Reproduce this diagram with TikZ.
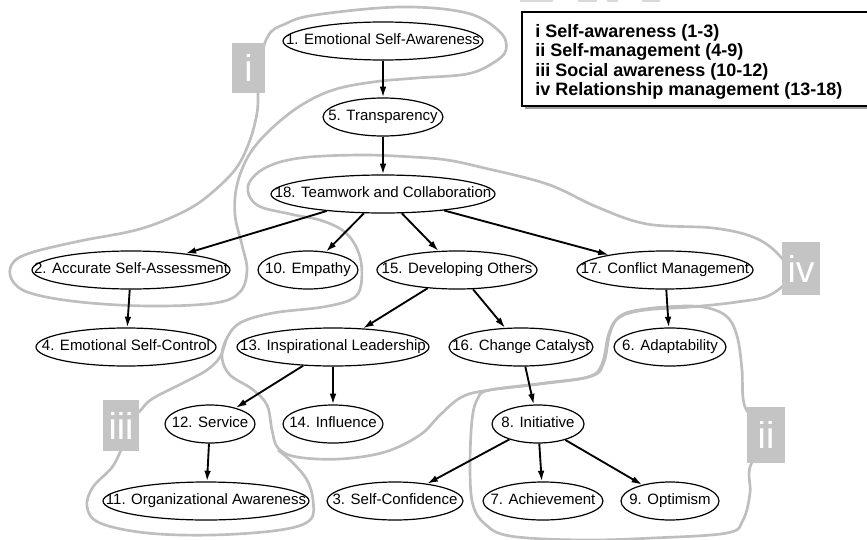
\documentclass[tikz,border=0pt]{standalone}
\usepackage{fontspec}
\setmainfont{Liberation Sans}
\usetikzlibrary{shapes.geometric,arrows.meta}
\definecolor{loopgray}{HTML}{BEBEBE}
\definecolor{boxgray}{HTML}{C4C4C4}
\newcommand\nlab[1]{\makebox[0pt]{\strut #1}}
\begin{document}
\begin{tikzpicture}[x=0.75pt,y=-0.75pt,
  en/.style={ellipse, draw, fill=white, line width=0.9pt, inner sep=0pt, minimum height=28.5pt, font=\fontsize{11.25pt}{13pt}\selectfont},
  ew/.style={minimum width=#1*1.5pt},
  edge/.style={line width=1.4pt, -{Latex[length=8pt,width=5pt]}},
  grp/.style={draw=loopgray, line width=2pt},
  lab/.style={fill=boxgray, text=white, inner sep=0pt, font=\fontsize{28pt}{28pt}\selectfont},
  leg/.style={anchor=base west, inner sep=0pt, font=\fontsize{13.5pt}{16pt}\selectfont\bfseries}
]
\useasboundingbox (0,0) rectangle (867,539);

% faint fragments at the top edge
\fill[gray!30] (520,0) rectangle (553,1.5);
\fill[gray!30] (578,0) rectangle (597,1.5);
\fill[gray!30] (607,0) rectangle (618,1.5);
\fill[gray!30] (642,0) rectangle (660,1.5);

% group outlines
% i
\draw[grp] plot[smooth cycle, tension=0.6] coordinates {
 (258,70) (268,36) (285,24) (315,15) (400,7) (467,13) (500,32) (506,50) (493,63)
 (467,74) (417,78) (373,82) (333,90) (300,106) (270,130) (249,155) (237,185)
 (235,215) (242,245) (247,270) (240,292) (215,303) (150,306) (80,302) (30,293)
 (12,280) (12,264) (30,253) (80,241) (140,229) (187,210) (215,190) (237,167)
 (250,140) (257,113) (258,93)};
% iv
\draw[grp] plot[smooth cycle, tension=0.6] coordinates {
 (790,275) (777,253) (753,237) (713,228) (647,224) (597,207) (547,184) (480,167)
 (447,160) (413,157) (360,155) (300,158) (265,168) (248,186) (257,205) (290,214)
 (323,221) (347,234) (360,257) (361,285) (352,299) (323,307) (273,313) (240,323)
 (226,340) (222,358) (230,375) (252,389) (267,405) (272,430) (278,448) (297,457)
 (340,459) (385,452) (420,435) (440,415) (460,398) (483,391) (540,384) (588,377)
 (602,364) (609,333) (620,317) (645,310) (690,307) (737,302) (770,295)};
% iii
\draw[grp] plot[smooth, tension=0.6] coordinates {
 (226,340) (220,357) (207,370) (183,383) (152,399) (139,412) (125,425)};
\draw[grp] plot[smooth, tension=0.6] coordinates {
 (125,440) (113,466) (93,487) (87,507) (100,523) (147,533) (213,535) (280,530)
 (310,520) (313,500) (307,480) (293,463) (278,450)};
% ii
\draw[grp] plot[smooth cycle, tension=0.6] coordinates {
 (766,435) (745,407) (742,370) (738,340) (730,320) (715,310) (690,306) (645,309)
 (620,316) (610,333) (604,362) (592,376) (545,383) (490,390) (478,398) (472,420)
 (470,470) (473,505) (485,524) (510,536) (580,540) (653,538) (727,533) (743,520)
 (750,493) (750,467)};

% group labels
\node[lab, minimum width=24.75pt, minimum height=37.5pt] (li) at (248.5,68) {i};
\node[lab, minimum width=28.5pt, minimum height=42pt] (lii) at (766,435) {ii};
\node[lab, minimum width=27pt, minimum height=38.25pt] (liii) at (121,425.5) {iii};
\node[lab, minimum width=28.5pt, minimum height=39.75pt] (liv) at (801,268.5) {iv};

% legend
\fill[gray!75] (525,15) rectangle (875,109);
\draw[line width=1.5pt, fill=white] (522,12) rectangle (875,106);
\node[leg] (g1) at (535,37) {i Self-awareness (1-3)};
\node[leg] (g2) at (535,56.5) {ii Self-management (4-9)};
\node[leg] (g3) at (535,76) {iii Social awareness (10-12)};
\node[leg] (g4) at (535,95.5) {iv Relationship management (13-18)};

% nodes
\node[en, ew=100] (n1) at (383,41) {\nlab{1. Emotional Self-Awareness}};
\node[en, ew=60] (n5) at (383,117) {\nlab{5. Transparency}};
\node[en, ew=112] (n18) at (383,194) {\nlab{18. Teamwork and Collaboration}};
\node[en, ew=99] (n2) at (131,270) {\nlab{2. Accurate Self-Assessment}};
\node[en, ew=50] (n10) at (308,270) {\nlab{10. Empathy}};
\node[en, ew=80] (n15) at (457,270) {\nlab{15. Developing Others}};
\node[en, ew=88] (n17) at (665,270) {\nlab{17. Conflict Management}};
\node[en, ew=90] (n4) at (126,347) {\nlab{4. Emotional Self-Control}};
\node[en, ew=96] (n13) at (333,347) {\nlab{13. Inspirational Leadership}};
\node[en, ew=72] (n16) at (521,347) {\nlab{16. Change Catalyst}};
\node[en, ew=56] (n6) at (670,347) {\nlab{6. Adaptability}};
\node[en, ew=45] (n12) at (210,424) {\nlab{12. Service}};
\node[en, ew=50] (n14) at (333,424) {\nlab{14. Influence}};
\node[en, ew=46] (n8) at (538,424) {\nlab{8. Initiative}};
\node[en, ew=103] (n11) at (206,501) {\nlab{11. Organizational Awareness}};
\node[en, ew=68] (n3) at (395,501) {\nlab{3. Self-Confidence}};
\node[en, ew=60] (n7) at (543,501) {\nlab{7. Achievement}};
\node[en, ew=49] (n9) at (670,501) {\nlab{9. Optimism}};

% edges
\draw[edge] (n1) -- (n5);
\draw[edge] (n5) -- (n18);
\draw[edge] (n18) -- (n2);
\draw[edge] (n18) -- (n10);
\draw[edge] (n18) -- (n15);
\draw[edge] (n18) -- (n17);
\draw[edge] (n2) -- (n4);
\draw[edge] (n15) -- (n13);
\draw[edge] (n15) -- (n16);
\draw[edge] (n17) -- (n6);
\draw[edge] (n13) -- (n12);
\draw[edge] (n13) -- (n14);
\draw[edge] (n16) -- (n8);
\draw[edge] (n12) -- (n11);
\draw[edge] (n8) -- (n3);
\draw[edge] (n8) -- (n7);
\draw[edge] (n8) -- (n9);
\end{tikzpicture}
\end{document}
